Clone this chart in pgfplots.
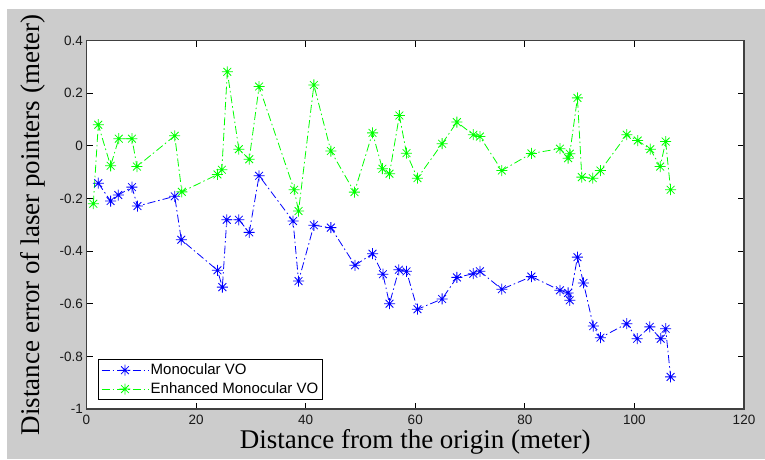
\documentclass[border=0pt]{standalone}
\usepackage{fontspec}
\setmainfont{Liberation Serif}
\newfontfamily\arial{Liberation Sans}
\usepackage{pgfplots}
\pgfplotsset{compat=1.18}
\definecolor{figgray}{RGB}{204,204,204}
\definecolor{mblue}{RGB}{0,0,255}
\definecolor{mgreen}{RGB}{0,255,0}
\pgfdeclareplotmark{mstar}{%
  \pgfpathmoveto{\pgfpoint{-\pgfplotmarksize}{0pt}}\pgfpathlineto{\pgfpoint{\pgfplotmarksize}{0pt}}%
  \pgfpathmoveto{\pgfpoint{0pt}{-\pgfplotmarksize}}\pgfpathlineto{\pgfpoint{0pt}{\pgfplotmarksize}}%
  \pgfpathmoveto{\pgfpoint{-.707\pgfplotmarksize}{-.707\pgfplotmarksize}}\pgfpathlineto{\pgfpoint{.707\pgfplotmarksize}{.707\pgfplotmarksize}}%
  \pgfpathmoveto{\pgfpoint{-.707\pgfplotmarksize}{.707\pgfplotmarksize}}\pgfpathlineto{\pgfpoint{.707\pgfplotmarksize}{-.707\pgfplotmarksize}}%
  \pgfusepathqstroke}
\begin{document}
\begin{tikzpicture}
\useasboundingbox (0,0) rectangle (765pt,459pt);
\fill[white] (0,0) rectangle (765pt,459pt);
\fill[figgray] (7pt,0) rectangle (765pt,450pt);
\begin{axis}[
  at={(86.5pt,50pt)}, anchor=south west,
  scale only axis, width=657.5pt, height=368.5pt,
  xmin=0, xmax=120, ymin=-1, ymax=0.4,
  xtick={0,20,...,120}, ytick={-1,-0.8,...,0.4},
  yticklabels={-1,-0.8,-0.6,-0.4,-0.2,0,0.2,0.4},
  tick align=inside, major tick length=6pt,
  tick style={black, line width=0.8pt},
  axis line style={black!75, line width=1.2pt},
  axis background/.style={fill=white},
  /pgf/number format/assume math mode=true,
  ticklabel style={font=\arial\fontsize{13.5}{15}\selectfont, text=black!90},
  xticklabel style={yshift=-3pt},
  xlabel={Distance from the origin (meter)},
  ylabel={Distance error of laser pointers (meter)},
  label style={font=\fontsize{27}{30}\selectfont},
  xlabel style={at={(axis description cs:0.5,-0.088)}, anchor=center},
  ylabel style={at={(axis description cs:-0.081,0.5)}, anchor=center},
  legend style={at={(axis description cs:0.018,0.024)}, anchor=south west,
    draw=black, line width=0.8pt, fill=white, inner sep=2.5pt,
    font=\arial\fontsize{15}{17}\selectfont, row sep=2.5pt,
    cells={anchor=west}},
  legend image code/.code={\draw[mark repeat=2,mark phase=2] plot coordinates {(0cm,0cm) (0.82cm,0cm) (1.64cm,0cm)};},
  every axis plot/.append style={line width=0.8pt, dash pattern=on 8pt off 3pt on 1.5pt off 3pt, mark=mstar, mark size=5.5pt, mark options={solid, line width=0.8pt}},
]
\addplot[color=mblue] coordinates {
(2.15,-0.142) (4.4,-0.210) (5.8,-0.187) (8.3,-0.157) (9.3,-0.229)
(16.1,-0.192) (17.3,-0.357) (23.9,-0.473) (24.8,-0.537) (25.6,-0.281)
(27.8,-0.281) (29.7,-0.329) (31.5,-0.114) (37.7,-0.286) (38.7,-0.514)
(41.5,-0.302) (44.6,-0.311) (49.0,-0.454) (52.2,-0.410) (54.1,-0.488)
(55.3,-0.600) (57.0,-0.471) (58.4,-0.477) (60.4,-0.621) (64.9,-0.582)
(67.6,-0.500) (70.6,-0.486) (71.8,-0.477) (75.8,-0.545) (81.2,-0.497)
(86.4,-0.549) (87.9,-0.559) (88.2,-0.587) (89.6,-0.423) (90.7,-0.521)
(92.5,-0.685) (93.8,-0.729) (98.6,-0.676) (100.5,-0.733) (102.8,-0.688)
(104.8,-0.733) (105.7,-0.695) (106.6,-0.878)
};
\addlegendentry{Monocular VO}
\addplot[color=mgreen] coordinates {
(1.25,-0.220) (2.15,0.080) (4.4,-0.076) (5.9,0.027) (8.3,0.027)
(9.2,-0.079) (16.1,0.038) (17.4,-0.175) (23.9,-0.109) (24.7,-0.091)
(25.7,0.281) (27.8,-0.013) (29.7,-0.051) (31.5,0.225) (37.9,-0.167)
(38.7,-0.248) (41.5,0.231) (44.6,-0.020) (48.9,-0.176) (52.2,0.049)
(54.0,-0.087) (55.3,-0.106) (57.1,0.115) (58.4,-0.028) (60.4,-0.123)
(64.9,0.008) (67.6,0.090) (70.6,0.042) (71.8,0.035) (75.8,-0.094)
(81.2,-0.029) (86.4,-0.011) (87.9,-0.047) (88.2,-0.030) (89.6,0.182)
(90.4,-0.119) (92.4,-0.123) (93.8,-0.094) (98.6,0.042) (100.6,0.020)
(102.9,-0.013) (104.7,-0.079) (105.7,0.016) (106.6,-0.167)
};
\addlegendentry{Enhanced Monocular VO}
\end{axis}
\end{tikzpicture}
\end{document}
